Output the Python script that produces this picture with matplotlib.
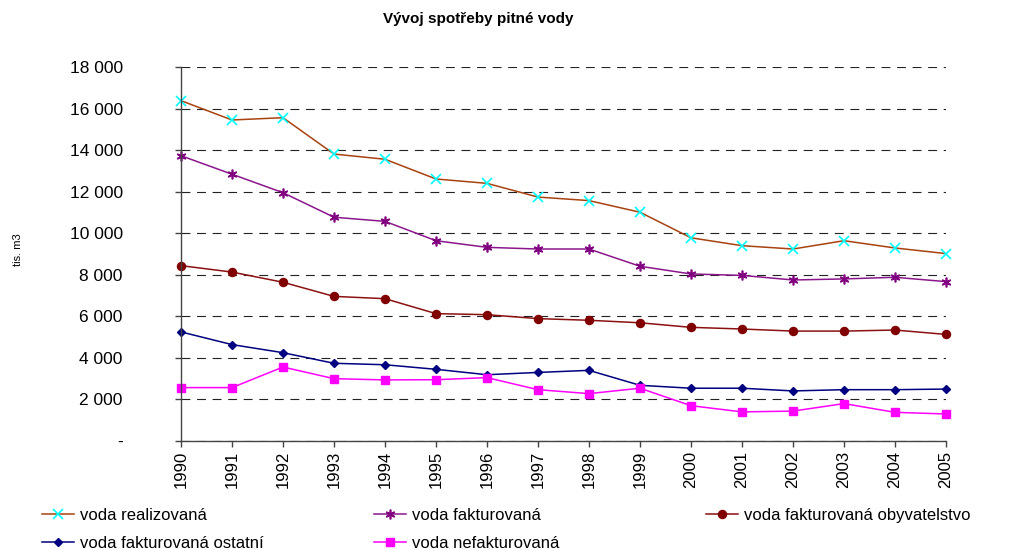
import numpy as np
import matplotlib
matplotlib.use('Agg')
import matplotlib.pyplot as plt
from matplotlib.ticker import FuncFormatter

plt.rcParams['font.family'] = ['Liberation Sans', 'DejaVu Sans']

# data (tis. m3)
years = list(range(1990, 2006))
realizovana = [16380, 15450, 15560, 13810, 13560, 12610, 12400, 11740,
               11570, 11010, 9780, 9400, 9240, 9640, 9290, 9020]
fakturovana = [13730, 12840, 11950, 10770, 10570, 9640, 9320, 9240,
               9240, 8410, 8040, 7970, 7750, 7800, 7880, 7670]
obyvatelstvo = [8440, 8130, 7640, 6960, 6850, 6130, 6080, 5890,
                5810, 5690, 5470, 5390, 5290, 5290, 5340, 5130]
ostatni = [5250, 4640, 4250, 3740, 3670, 3450, 3190, 3300,
           3400, 2680, 2540, 2540, 2410, 2470, 2470, 2500]
nefakturovana = [2570, 2570, 3560, 3000, 2940, 2950, 3050, 2470,
                 2280, 2540, 1700, 1400, 1440, 1800, 1380, 1300]

labels = ['voda realizovaná', 'voda fakturovaná', 'voda fakturovaná obyvatelstvo',
          'voda fakturovaná ostatní', 'voda nefakturovaná']

fig = plt.figure(figsize=(10.19, 5.5), dpi=100)
ax = fig.add_axes([181 / 1019, 1 - 441 / 550, (946 - 181) / 1019, (441 - 67) / 550])

# gridlines
ax.set_axisbelow(True)
ax.yaxis.grid(True, color='#222222', linestyle=(0, (8, 6)), linewidth=0.8)

h1, = ax.plot(years, realizovana, color='#A8420F', lw=1.1, marker='x', ms=6.5,
              mec='#00FFFF', mew=1.2, clip_on=False, label=labels[0])
h2, = ax.plot(years, fakturovana, color='#8B168B', lw=1.1, marker=(6, 2, 0), ms=7,
              mec='#800080', mew=1.2, clip_on=False, label=labels[1])
h3, = ax.plot(years, obyvatelstvo, color='#8B1010', lw=1.1, marker='o', ms=5.8,
              mfc='#800000', mec='#800000', clip_on=False, label=labels[2])
h4, = ax.plot(years, ostatni, color='#000080', lw=1.1, marker='D', ms=4.2,
              mfc='#000080', mec='#000080', clip_on=False, label=labels[3])
h5, = ax.plot(years, nefakturovana, color='#FF00FF', lw=1.1, marker='s', ms=6.3,
              mfc='#FF00FF', mec='#FF00FF', clip_on=False, label=labels[4])

ax.set_xlim(1990, 2005)
ax.set_ylim(0, 18000)
ax.set_xticks(years)
ax.set_xticklabels([str(y) for y in years], rotation=90, fontsize=12)
ax.set_yticks(np.arange(0, 18001, 2000))


def fmt(v, pos):
    if v == 0:
        return '-'
    return '{:,.0f}'.format(v).replace(',', ' ')


ax.yaxis.set_major_formatter(FuncFormatter(fmt))
ax.tick_params(axis='y', labelsize=12.5, length=4, width=1, color='#444444', pad=38)
ax.tick_params(axis='x', length=4, width=1, color='#444444', pad=3)

for s in ['top', 'right']:
    ax.spines[s].set_visible(False)
for s in ['left', 'bottom']:
    ax.spines[s].set_color('#444444')
    ax.spines[s].set_linewidth(1)

fig.text(18 / 1019, 1 - 250 / 550, 'tis. m3', rotation=90, fontsize=8,
         ha='center', va='center')
fig.text(478 / 1019, 1 - 19 / 550, 'Vývoj spotřeby pitné vody', fontsize=11,
         fontweight='bold', ha='center', va='center')

# legend, three columns placed by hand
cols = [([h1, h4], 42), ([h2, h5], 374), ([h3], 706)]
for hs, x in cols:
    lg = fig.legend(handles=hs, loc='upper left', bbox_to_anchor=(x / 1019, 1 - 508 / 550),
                    frameon=False, fontsize=12, handlelength=1.9, handletextpad=0.4,
                    labelspacing=0.75, borderpad=0, borderaxespad=0)

fig.savefig('out.png', dpi=100)
